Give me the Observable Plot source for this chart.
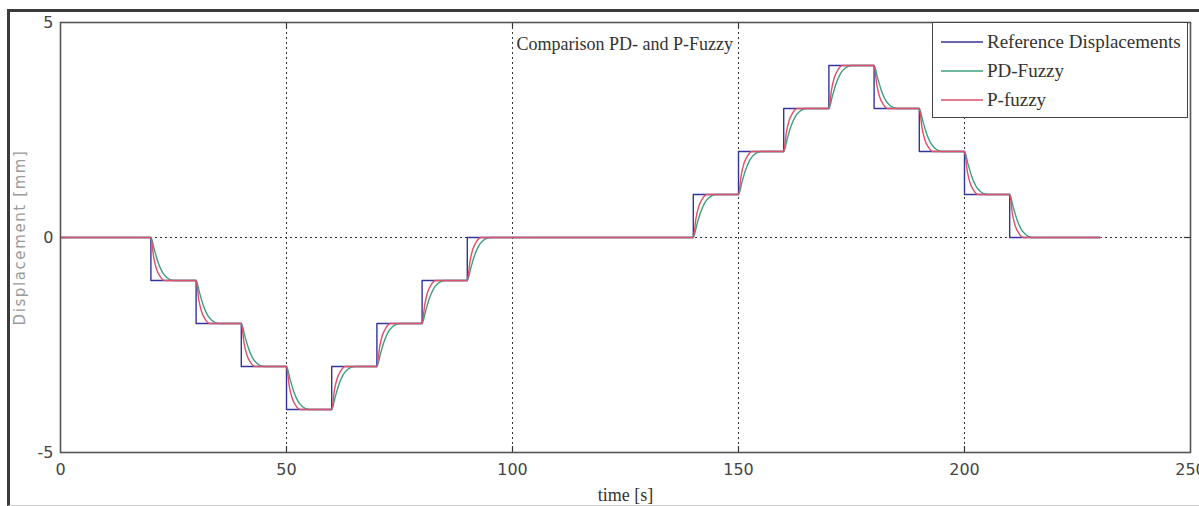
<!DOCTYPE html>
<html>
<head>
<meta charset="utf-8">
<script src="https://cdn.jsdelivr.net/npm/d3@7"></script>
<script src="https://cdn.jsdelivr.net/npm/@observablehq/plot@0.6"></script>
<style>
  body { margin: 0; background: #fff; }
  #wrap { position: relative; width: 1199px; height: 506px; overflow: hidden; background: #fff; }
  #border { position: absolute; left: 7px; top: 9px; width: 1200px; height: 493px;
            border-top: 3px solid #3a3a3a; border-left: 3px solid #3a3a3a; border-bottom: 1px solid #c8c8c8; }
  #legend { position: absolute; left: 932px; top: 22px; width: 256px; height: 96px;
            border: 1.5px solid #444; background: #fff; box-sizing: border-box;
            font-family: "Liberation Serif", "Times New Roman", serif; font-size: 19px; color: #333; }
  .row { position: absolute; left: 8px; height: 22px; display: flex; align-items: center; white-space: nowrap; }
  .row svg { margin-right: 4px; }
  #chart { position: absolute; left: 0; top: 0; }
</style>
</head>
<body>
<div id="wrap">
  <div id="border"></div>
  <div id="chart"></div>
  <div id="legend"></div>
</div>
<script>
// ---- data ----
const seriesNames = ["Reference Displacements", "PD-Fuzzy", "P-fuzzy"];
const seriesColors = ["#34349a", "#3f9f7c", "#e0506a"];
const titleText = "Comparison PD- and P-Fuzzy";
const xLabel = "time [s]";
const yLabel = "Displacement [mm]";
const xTicks = [0, 50, 100, 150, 200, 250];
const yTicks = [-5, 0, 5];
const gridX = [50, 100, 150, 200];
const gridY = [0];

// Reference displacement: step changes (time, level held afterwards)
const refTime = [0, 20, 30, 40, 50, 60, 70, 80, 90, 140, 150, 160, 170, 180, 190, 200, 210, 230];
const refDisp = [0, -1, -2, -3, -4, -3, -2, -1, 0, 1, 2, 3, 4, 3, 2, 1, 0, 0];

// PD-Fuzzy response (slower)
const pdFuzzy = [
  [0,0],
  [20,0],[20.8,-0.3],[21.6,-0.58],[22.5,-0.8],[23.5,-0.93],[25,-1],
  [30,-1],[30.8,-1.3],[31.6,-1.58],[32.5,-1.8],[33.5,-1.93],[35,-2],
  [40,-2],[40.8,-2.3],[41.6,-2.58],[42.5,-2.8],[43.5,-2.93],[45,-3],
  [50,-3],[50.8,-3.3],[51.6,-3.58],[52.5,-3.8],[53.5,-3.93],[55,-4],
  [60,-4],[60.8,-3.7],[61.6,-3.42],[62.5,-3.2],[63.5,-3.07],[65,-3],
  [70,-3],[70.8,-2.7],[71.6,-2.42],[72.5,-2.2],[73.5,-2.07],[75,-2],
  [80,-2],[80.8,-1.7],[81.6,-1.42],[82.5,-1.2],[83.5,-1.07],[85,-1],
  [90,-1],[90.8,-0.7],[91.6,-0.42],[92.5,-0.2],[93.5,-0.07],[95,0],
  [140,0],[140.8,0.3],[141.6,0.58],[142.5,0.8],[143.5,0.93],[145,1],
  [150,1],[150.8,1.3],[151.6,1.58],[152.5,1.8],[153.5,1.93],[155,2],
  [160,2],[160.8,2.3],[161.6,2.58],[162.5,2.8],[163.5,2.93],[165,3],
  [170,3],[170.8,3.3],[171.6,3.58],[172.5,3.8],[173.5,3.93],[175,4],
  [180,4],[180.8,3.7],[181.6,3.42],[182.5,3.2],[183.5,3.07],[185,3],
  [190,3],[190.8,2.7],[191.6,2.42],[192.5,2.2],[193.5,2.07],[195,2],
  [200,2],[200.8,1.7],[201.6,1.42],[202.5,1.2],[203.5,1.07],[205,1],
  [210,1],[210.8,0.7],[211.6,0.42],[212.5,0.2],[213.5,0.07],[215,0],
  [230,0]
];

// P-fuzzy response (faster)
const pFuzzy = [
  [0,0],
  [20,0],[20.6,-0.45],[21.2,-0.72],[22,-0.9],[23,-1],
  [30,-1],[30.6,-1.45],[31.2,-1.72],[32,-1.9],[33,-2],
  [40,-2],[40.6,-2.45],[41.2,-2.72],[42,-2.9],[43,-3],
  [50,-3],[50.6,-3.45],[51.2,-3.72],[52,-3.9],[53,-4],
  [60,-4],[60.6,-3.55],[61.2,-3.28],[62,-3.1],[63,-3],
  [70,-3],[70.6,-2.55],[71.2,-2.28],[72,-2.1],[73,-2],
  [80,-2],[80.6,-1.55],[81.2,-1.28],[82,-1.1],[83,-1],
  [90,-1],[90.6,-0.55],[91.2,-0.28],[92,-0.1],[93,0],
  [140,0],[140.6,0.45],[141.2,0.72],[142,0.9],[143,1],
  [150,1],[150.6,1.45],[151.2,1.72],[152,1.9],[153,2],
  [160,2],[160.6,2.45],[161.2,2.72],[162,2.9],[163,3],
  [170,3],[170.6,3.45],[171.2,3.72],[172,3.9],[173,4],
  [180,4],[180.6,3.55],[181.2,3.28],[182,3.1],[183,3],
  [190,3],[190.6,2.55],[191.2,2.28],[192,2.1],[193,2],
  [200,2],[200.6,1.55],[201.2,1.28],[202,1.1],[203,1],
  [210,1],[210.6,0.55],[211.2,0.28],[212,0.1],[213,0],
  [230,0]
];

// ---- build tables ----
const refData = refTime.map((t, i) => ({t, v: refDisp[i]}));
const pdData = pdFuzzy.map(([t, v]) => ({t, v}));
const pData = pFuzzy.map(([t, v]) => ({t, v}));

const W = 1199, H = 506;
const mL = 60, mR = 9, mT = 22, mB = 54;
const innerH = H - mT - mB, innerW = W - mL - mR;
const tickLen = 6;
const serif = "'Liberation Serif', 'Times New Roman', serif";

const chart = Plot.plot({
  width: W, height: H,
  marginLeft: mL, marginRight: mR, marginTop: mT, marginBottom: mB,
  style: {background: "transparent", fontFamily: "'DejaVu Sans', sans-serif", fontSize: "16px", color: "#444", overflow: "visible"},
  x: {domain: [0, 250], ticks: xTicks, tickSize: 0, tickPadding: 11, tickFormat: d => String(d), label: null},
  y: {domain: [-5, 5], ticks: yTicks, tickSize: 0, tickPadding: 7, tickFormat: d => String(d), label: null},
  marks: [
    Plot.ruleX(gridX, {stroke: "#333", strokeDasharray: "2,3", strokeWidth: 1}),
    Plot.ruleY(gridY, {stroke: "#333", strokeDasharray: "2,3", strokeWidth: 1}),
    Plot.tickX(gridX, {insetTop: innerH - tickLen, stroke: "#333", strokeWidth: 1.2}),
    Plot.tickX(gridX, {insetBottom: innerH - tickLen, stroke: "#333", strokeWidth: 1.2}),
    Plot.tickY(gridY, {insetRight: innerW - tickLen, stroke: "#333", strokeWidth: 1.2}),
    Plot.tickY(gridY, {insetLeft: innerW - tickLen, stroke: "#333", strokeWidth: 1.2}),
    Plot.line(refData, {x: "t", y: "v", curve: "step-after", stroke: seriesColors[0], strokeWidth: 1.4}),
    Plot.line(pdData, {x: "t", y: "v", curve: "monotone-x", stroke: seriesColors[1], strokeWidth: 1.4}),
    Plot.line(pData, {x: "t", y: "v", curve: "monotone-x", stroke: seriesColors[2], strokeWidth: 1.4}),
    Plot.frame({stroke: "#555", strokeWidth: 1.6}),
    Plot.text([titleText], {x: 100, y: 5, dx: 4, dy: 22, textAnchor: "start", fontFamily: serif, fontSize: 18, fill: "#333"}),
    Plot.text([xLabel], {frameAnchor: "bottom", dy: 43, lineAnchor: "middle", fontFamily: serif, fontSize: 18, fill: "#333"}),
    Plot.text([yLabel], {frameAnchor: "left", rotate: -90, dx: -40, textAnchor: "middle", lineAnchor: "middle", fontFamily: "'DejaVu Sans', sans-serif", fontSize: 15, fill: "#9a9a9a"})
  ]
});
// widen the rotated y label like the reference
d3.select(chart).selectAll("text").filter(function() { return this.textContent === yLabel; })
  .style("letter-spacing", "1.6px");
document.getElementById("chart").appendChild(chart);

// ---- legend ----
const legend = d3.select("#legend");
seriesNames.forEach((name, i) => {
  const row = legend.append("div").attr("class", "row").style("top", (8 + i * 29) + "px");
  const s = row.append("svg").attr("width", 42).attr("height", 6);
  s.append("line").attr("x1", 0).attr("x2", 42).attr("y1", 3).attr("y2", 3)
    .attr("stroke", seriesColors[i]).attr("stroke-width", 1.5);
  row.append("span").text(name);
});
</script>
</body>
</html>
